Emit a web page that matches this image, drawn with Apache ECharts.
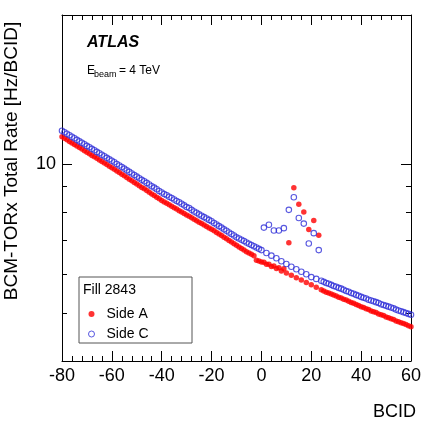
<!DOCTYPE html>
<html>
<head>
<meta charset="utf-8">
<script src="https://cdn.jsdelivr.net/npm/echarts@6/dist/echarts.min.js"></script>
<style>
html,body{margin:0;padding:0;background:#fff;}
#chart{width:424px;height:426px;}
</style>
</head>
<body>
<div id="chart"></div>
<script>
// BCID range -80 .. 60, one point per bunch crossing
var bcidFirst = -80, bcidLast = 60;

// Side A, BCID -80 .. 60
var rateA = [
 11.35,11.27,11.19,11.11,11.03,10.95,10.87,10.80,10.72,10.64,
 10.56,10.49,10.41,10.34,10.27,10.19,10.12,10.05,9.98,9.90,
 9.83,9.76,9.68,9.61,9.54,9.47,9.39,9.32,9.25,9.18,
 9.11,9.04,8.97,8.91,8.84,8.77,8.70,8.64,8.57,8.51,
 8.44,8.38,8.33,8.27,8.22,8.16,8.11,8.05,8.00,7.94,
 7.89,7.84,7.79,7.73,7.68,7.63,7.58,7.53,7.48,7.43,
 7.38,7.33,7.27,7.22,7.17,7.11,7.06,7.01,6.96,6.90,
 6.85,6.80,6.75,6.70,6.65,6.61,6.57,6.53,6.39,6.37,
 6.34,6.33,6.27,6.27,6.21,6.22,6.15,6.17,6.08,6.14,
 6.02,6.93,5.96,8.95,5.89,8.29,5.83,8.00,5.76,7.37,
 5.70,7.69,5.64,7.18,5.57,5.54,5.51,5.49,5.46,5.44,
 5.41,5.38,5.36,5.33,5.31,5.28,5.25,5.23,5.20,5.18,
 5.15,5.13,5.10,5.08,5.05,5.03,5.01,4.98,4.96,4.94,
 4.91,4.89,4.87,4.85,4.82,4.80,4.78,4.76,4.74,4.71,
 4.69
];

// Side C, BCID -80 .. 60
var rateC = [
 11.67,11.59,11.51,11.43,11.35,11.27,11.19,11.11,11.04,10.96,
 10.88,10.81,10.73,10.66,10.58,10.51,10.44,10.37,10.29,10.22,
 10.15,10.08,10.00,9.93,9.86,9.79,9.71,9.64,9.57,9.50,
 9.43,9.36,9.29,9.23,9.16,9.09,9.02,8.96,8.89,8.82,
 8.76,8.70,8.65,8.59,8.54,8.48,8.42,8.37,8.31,8.25,
 8.19,8.15,8.08,8.02,7.97,7.91,7.86,7.81,7.76,7.71,
 7.66,7.60,7.55,7.49,7.44,7.38,7.33,7.27,7.22,7.17,
 7.11,7.07,7.03,6.99,6.94,6.90,6.86,6.82,6.78,6.74,
 6.70,7.44,6.61,7.54,6.53,7.34,6.45,7.34,6.36,7.42,
 6.28,8.08,6.20,8.57,6.13,7.78,6.06,7.58,5.99,6.91,
 5.91,7.25,5.86,6.70,5.81,5.78,5.75,5.73,5.70,5.67,
 5.65,5.62,5.60,5.57,5.54,5.52,5.49,5.47,5.44,5.42,
 5.39,5.37,5.35,5.32,5.30,5.28,5.26,5.24,5.21,5.19,
 5.17,5.15,5.13,5.11,5.08,5.06,5.04,5.02,5.00,4.98,
 4.96
];

var xTicks = [-80, -60, -40, -20, 0, 20, 40, 60];
var yMinorTicks = [5, 6, 7, 8, 9];
var yMajorTicks = [10];

var FONT = 'Liberation Sans, Arial, Helvetica, sans-serif';

function pairs(rates){
    var out = [];
    for (var i = 0; i < rates.length; i++) {
        out.push([bcidFirst + i, rates[i]]);
    }
    return out;
}

var myChart = echarts.init(document.getElementById('chart'), null, {renderer: 'canvas'});

function xAxisOpt(pos, showLabel){
    return {
        type: 'value',
        position: pos,
        min: xTicks[0],
        max: xTicks[xTicks.length - 1],
        interval: 20,
        axisLine: {show: true, onZero: false, lineStyle: {color: '#000', width: 1}},
        axisTick: {show: true, inside: true, length: 10, lineStyle: {color: '#000'}},
        minorTick: {show: true, splitNumber: 5, length: 5, lineStyle: {color: '#000'}},
        axisLabel: {show: showLabel, fontSize: 18, color: '#000', margin: 6, fontFamily: FONT},
        splitLine: {show: false}
    };
}

function yAxisOpt(pos, ticks, len, lineOn, labelOn){
    return {
        type: 'log',
        logBase: 10,
        position: pos,
        min: 4,
        max: 20,
        axisLine: {show: lineOn, onZero: false, lineStyle: {color: '#000', width: 1}},
        axisTick: {show: true, inside: true, length: len, customValues: ticks, lineStyle: {color: '#000'}},
        axisLabel: {show: labelOn, customValues: yMajorTicks, fontSize: 18, color: '#000', margin: 6, fontFamily: FONT},
        splitLine: {show: false},
        minorTick: {show: false}
    };
}

var option = {
    animation: false,
    backgroundColor: '#fff',
    grid: {left: 62, right: 8, top: 15, bottom: 65, containLabel: false},
    xAxis: [xAxisOpt('bottom', true), xAxisOpt('top', false)],
    yAxis: [
        yAxisOpt('left', yMinorTicks, 5, true, true),
        yAxisOpt('left', yMajorTicks, 10, false, false),
        yAxisOpt('right', yMinorTicks, 5, true, false),
        yAxisOpt('right', yMajorTicks, 10, false, false)
    ],
    legend: {
        orient: 'vertical',
        left: 83,
        top: 302,
        itemWidth: 20,
        itemHeight: 6,
        itemGap: 6,
        textStyle: {fontSize: 14, color: '#000', fontFamily: FONT, lineHeight: 14},
        data: [
            {name: 'Side A'},
            {name: 'Side C', itemStyle: {borderWidth: 1}}
        ]
    },
    graphic: [
        {type: 'rect', shape: {x: 79, y: 277, width: 113, height: 66}, style: {fill: '#fff', stroke: '#555', lineWidth: 1}, z: 3},
        {type: 'text', x: 83, y: 290, style: {text: 'Fill 2843', font: '14px ' + FONT, fill: '#000', textVerticalAlign: 'middle'}, z: 5},
        {type: 'text', x: 87, y: 43, style: {text: 'ATLAS', font: 'italic bold 16px ' + FONT, fill: '#000', textVerticalAlign: 'middle'}},
        {type: 'text', x: 87, y: 71, style: {text: 'E', font: '12px ' + FONT, fill: '#000', textVerticalAlign: 'middle'}},
        {type: 'text', x: 94, y: 75, style: {text: 'beam', font: '9px ' + FONT, fill: '#000', textVerticalAlign: 'middle'}},
        {type: 'text', x: 119, y: 71, style: {text: '= 4 TeV', font: '12px ' + FONT, fill: '#000', textVerticalAlign: 'middle'}},
        {type: 'text', x: 12, y: 161, rotation: Math.PI / 2, style: {text: 'BCM-TORx Total Rate [Hz/BCID]', font: '19px ' + FONT, fill: '#000', textAlign: 'center', textVerticalAlign: 'middle'}},
        {type: 'text', x: 416, y: 412, style: {text: 'BCID', font: '18px ' + FONT, fill: '#000', textAlign: 'right', textVerticalAlign: 'middle'}}
    ],
    series: [
        {
            name: 'Side A',
            type: 'scatter',
            xAxisIndex: 0,
            yAxisIndex: 0,
            symbol: 'circle',
            symbolSize: 5.5,
            itemStyle: {color: '#ff0000'},
            data: pairs(rateA)
        },
        {
            name: 'Side C',
            type: 'scatter',
            xAxisIndex: 0,
            yAxisIndex: 0,
            symbol: 'circle',
            symbolSize: 5.5,
            itemStyle: {color: 'transparent', borderColor: '#3030d8', borderWidth: 1.1},
            data: pairs(rateC)
        }
    ]
};
myChart.setOption(option);
</script>
</body>
</html>
